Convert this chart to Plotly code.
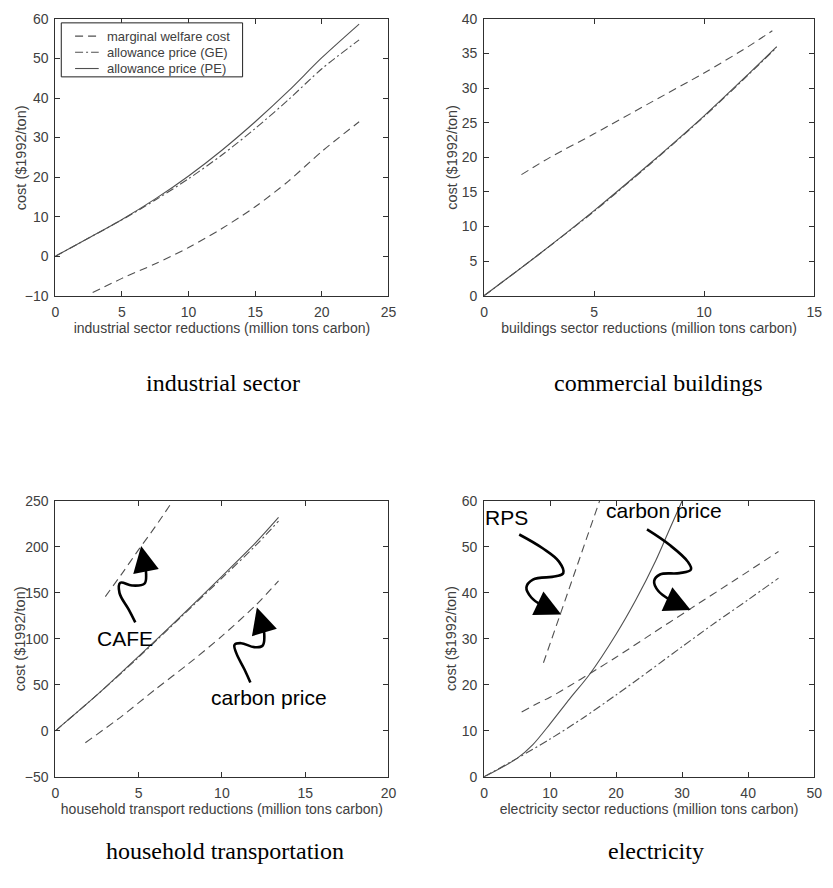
import plotly.graph_objects as go

# ---------------- data ----------------
# industrial sector
ind_x_mwc = [2.8, 5, 7.5, 10, 12.5, 15, 17.5, 20, 22.8]
ind_mwc = [-9.2, -5.6, -1.9, 2.2, 7.0, 12.5, 19.0, 26.5, 34.0]
ind_x = [0, 2.5, 5, 7.5, 10, 12.5, 15, 17.5, 20, 22.8]
ind_ge = [0, 4.6, 9.2, 14.2, 19.6, 25.6, 32.3, 39.6, 47.4, 54.7]
ind_pe = [0, 4.6, 9.3, 14.5, 20.3, 26.8, 34.0, 41.8, 50.2, 58.7]

# commercial buildings
bld_x_mwc = [1.7, 3, 5, 7.5, 10, 12, 13.1]
bld_mwc = [17.5, 20.0, 23.4, 27.8, 32.2, 36.0, 38.3]
bld_x = [0, 2.5, 5, 7.5, 10, 12, 13.3]
bld_ge = [0, 6.0, 12.2, 18.9, 25.9, 31.9, 35.9]
bld_pe = [0, 6.0, 12.3, 19.0, 26.0, 32.0, 36.0]

# household transportation
hh_x_cafe = [3.0, 4, 5, 6, 7.05]
hh_cafe = [146, 171, 197, 222, 250]
hh_x_mwc = [1.8, 4, 6, 8, 10, 12, 13.4]
hh_mwc = [-13, 16, 45, 73, 103, 136, 163]
hh_x = [0, 2.5, 5, 7.5, 10, 12, 13.4]
hh_ge = [0, 39, 80, 123, 166, 201, 228]
hh_pe = [0, 39, 81, 124, 168, 204, 232]

# electricity
el_x_rps = [9.0, 17.5]
el_rps = [24.8, 60]
el_x_mwc = [5.7, 8, 10, 13, 16.3, 20, 25, 31, 38, 44.6]
el_mwc = [14.1, 15.9, 17.3, 19.8, 22.7, 26.0, 30.7, 36.3, 42.8, 49.0]
el_x_ge = [0, 5, 10, 15, 20, 25, 30, 35, 40, 44.6]
el_ge = [0, 4, 8.2, 12.8, 17.8, 23.0, 28.3, 33.5, 38.5, 43.2]
el_x_pe = [0, 5, 7.4, 10, 13, 16, 20, 23, 26, 28, 30]
el_pe = [0, 4, 7.0, 11.5, 17.0, 22.3, 31.0, 38.5, 47.0, 53.5, 60]

legend_names = ["marginal welfare cost", "allowance price (GE)", "allowance price (PE)"]
x_titles = ["industrial sector reductions (million tons carbon)",
            "buildings sector reductions (million tons carbon)",
            "household transport reductions (million tons carbon)",
            "electricity sector reductions (million tons carbon)"]
panel_titles = ["industrial sector", "commercial buildings",
                "household transportation", "electricity"]
y_title = "cost ($1992/ton)"

# squiggly annotation arrows (data coordinates of each panel)
cafe_arrow = ([4.8, 4.4, 3.85, 3.9, 4.6, 5.35, 5.45, 5.35], [118, 132, 150, 161, 158, 160, 170, 182])
cafe_tip = (5.15, 201)
hhcp_arrow = ([11.71, 11.35, 10.86, 10.76, 11.15, 11.94, 12.44, 12.54, 12.4],
              [52.6, 66.9, 84.7, 93.5, 95.3, 91.0, 92.5, 106, 116])
hhcp_tip = (12.1, 134)
rps_arrow = ([5.33, 8.88, 11.35, 12.0, 10.86, 7.4, 6.42, 7.16, 8.88, 9.8],
             [52.7, 49.7, 46.8, 44.3, 43.6, 42.9, 41.2, 39.0, 37.2, 36.6])
rps_tip = (11.7, 35.3)
elcp_arrow = ([24.68, 28.13, 30.85, 31.34, 29.6, 26.65, 25.77, 26.4, 28.38, 29.3],
              [53.8, 50.4, 46.8, 45.1, 44.3, 44.0, 42.6, 40.4, 38.3, 37.6])
elcp_tip = (31.3, 36.3)

# ---------------- figure ----------------
LINE = "#505050"
DASH = "8px,5px"
DASHDOT = "8px,3px,2px,3px"
SANS = "Liberation Sans, Arial, sans-serif"
GREY = "#404040"
TICKFONT = dict(family=SANS, size=14, color=GREY)

# the page adds an 8px body margin on every side; keep the page inside the window
OFF = 8
W, H = 833 - OFF, 888 - 2 * OFF
def px(v):
    return (v - OFF) / W
def py(v):
    return 1 - (v - OFF) / H

fig = go.Figure()

def add(x, y, ax, dash):
    fig.add_trace(go.Scatter(x=x, y=y, mode="lines", xaxis="x" + ax, yaxis="y" + ax,
                             line=dict(color=LINE, width=1.1, dash=dash, shape="spline", smoothing=0.8),
                             showlegend=False, hoverinfo="skip"))

# panel 1
add(ind_x_mwc, ind_mwc, "", DASH)
add(ind_x, ind_ge, "", DASHDOT)
add(ind_x, ind_pe, "", "solid")
# panel 2
add(bld_x_mwc, bld_mwc, "2", DASH)
add(bld_x, bld_ge, "2", DASHDOT)
add(bld_x, bld_pe, "2", "solid")
# panel 3
add(hh_x_cafe, hh_cafe, "3", DASH)
add(hh_x_mwc, hh_mwc, "3", DASH)
add(hh_x, hh_ge, "3", DASHDOT)
add(hh_x, hh_pe, "3", "solid")
# panel 4
add(el_x_rps, el_rps, "4", DASH)
add(el_x_mwc, el_mwc, "4", DASH)
add(el_x_ge, el_ge, "4", DASHDOT)
add(el_x_pe, el_pe, "4", "solid")

# squiggles
for (xs, ys), tip, ax in [(cafe_arrow, cafe_tip, "3"), (hhcp_arrow, hhcp_tip, "3"),
                          (rps_arrow, rps_tip, "4"), (elcp_arrow, elcp_tip, "4")]:
    fig.add_trace(go.Scatter(x=xs, y=ys, mode="lines", xaxis="x" + ax, yaxis="y" + ax,
                             line=dict(color="black", width=2.6, shape="spline", smoothing=1.1),
                             showlegend=False, hoverinfo="skip"))
    fig.add_annotation(x=tip[0], y=tip[1], ax=xs[-1], ay=ys[-1],
                       xref="x" + ax, yref="y" + ax, axref="x" + ax, ayref="y" + ax,
                       showarrow=True, arrowhead=2, arrowsize=2.0, arrowwidth=2.6,
                       arrowcolor="black", text="")

# texts
TXT = dict(family=SANS, size=21, color="black")
fig.add_annotation(x=4.2, y=100, xref="x3", yref="y3", text="CAFE", showarrow=False, font=TXT)
fig.add_annotation(x=12.8, y=36, xref="x3", yref="y3", text="carbon price", showarrow=False, font=TXT)
fig.add_annotation(x=3.45, y=56.4, xref="x4", yref="y4", text="RPS", showarrow=False, font=TXT)
fig.add_annotation(x=27.2, y=57.9, xref="x4", yref="y4", text="carbon price", showarrow=False, font=TXT)

xdom = [[px(52), px(390)], [px(487), px(822)]]
ydom = [[py(293), py(11)], [py(783), py(502)]]

specs = [
    ("", xdom[0], ydom[0], [0, 25], 5, [-10, 60], 10),
    ("2", xdom[1], ydom[0], [0, 15], 5, [0, 40], 5),
    ("3", xdom[0], ydom[1], [0, 20], 5, [-50, 250], 50),
    ("4", xdom[1], ydom[1], [0, 50], 10, [0, 60], 10),
]
axcommon = dict(showline=True, linecolor="#303030", linewidth=1, mirror="ticks",
                ticks="inside", ticklen=5, tickcolor="#303030", showgrid=False,
                zeroline=False, tickfont=TICKFONT, ticklabeloverflow="allow")
for i, (s, xd, yd, xr, xdt, yr, ydt) in enumerate(specs):
    fig.update_layout(**{
        "xaxis" + s: dict(domain=xd, range=xr, dtick=xdt, tick0=0, anchor="y" + s,
                          ticklabelstandoff=3,
                          title=dict(text=x_titles[i], standoff=2,
                                     font=dict(family=SANS, size=14, color=GREY)),
                          **axcommon),
        "yaxis" + s: dict(domain=yd, range=yr, dtick=ydt, tick0=0, anchor="x" + s,
                          ticklabelstandoff=3, **axcommon),
    })

# y-axis titles
for (cx, cy) in [(17, 152), (455, 152), (16, 642), (454, 642)]:
    fig.add_annotation(x=px(cx), y=py(cy), xref="paper", yref="paper", text=y_title,
                       textangle=-90, showarrow=False, xanchor="center", yanchor="middle",
                       font=dict(family=SANS, size=14.5, color=GREY))

# panel captions
for i, (cx, cy) in enumerate([(222, 382), (664, 382), (224, 859), (662, 859)]):
    fig.add_annotation(x=px(cx), y=py(cy), xref="paper", yref="paper", text=panel_titles[i],
                       showarrow=False, xanchor="center", yanchor="middle",
                       font=dict(family="Liberation Serif, Times New Roman, serif", size=24, color="black"))

# legend box of the first panel
fig.add_shape(type="rect", xref="paper", yref="paper", x0=px(58), x1=px(242), y0=py(70), y1=py(15),
              line=dict(color="#202020", width=1), fillcolor="white", layer="above")
for k, (name, dash) in enumerate(zip(legend_names, [DASH, DASHDOT, "solid"])):
    yy = 28.5 + 16.5 * k
    fig.add_shape(type="line", xref="paper", yref="paper", x0=px(72), x1=px(96), y0=py(yy), y1=py(yy),
                  line=dict(color=LINE, width=1.1, dash=dash), layer="above")
    fig.add_annotation(x=px(102), y=py(yy), xref="paper", yref="paper", text=name,
                       showarrow=False, xanchor="left", yanchor="middle",
                       font=dict(family=SANS, size=13, color=GREY))

fig.update_layout(
    width=W, height=H, margin=dict(l=0, r=0, t=0, b=0),
    paper_bgcolor="white", plot_bgcolor="white", showlegend=False,
)

fig.write_html("out.html")
